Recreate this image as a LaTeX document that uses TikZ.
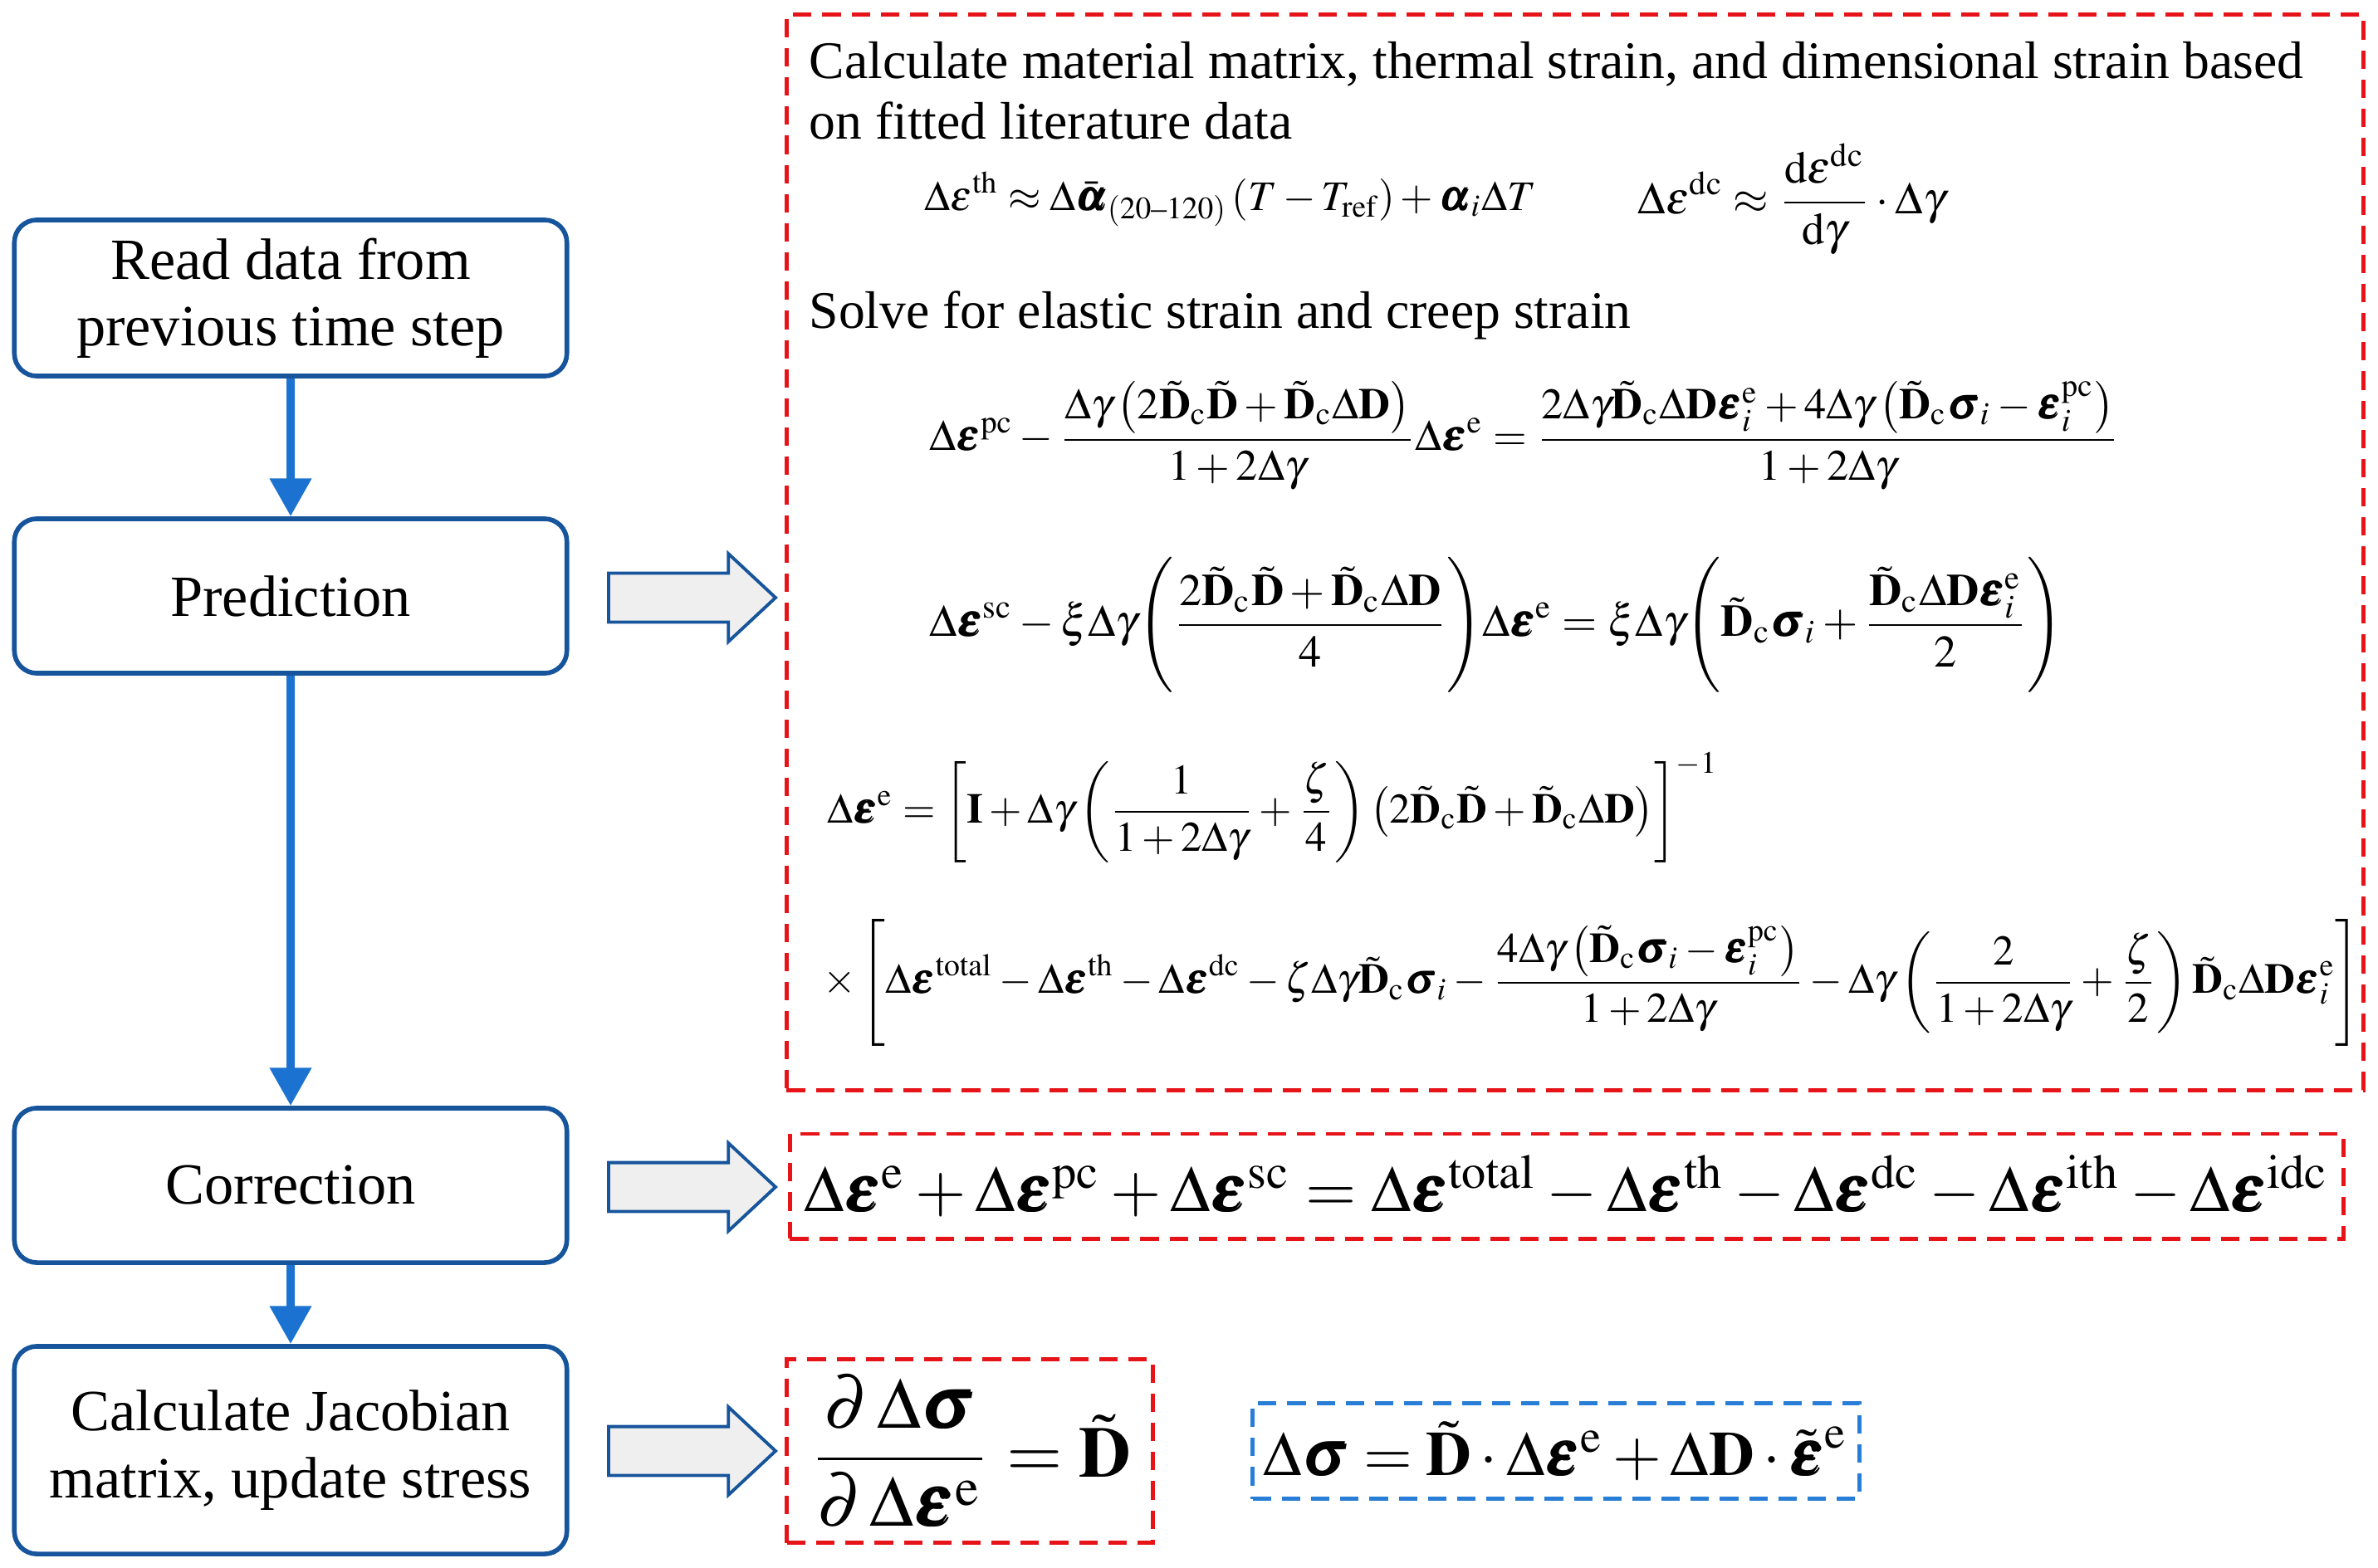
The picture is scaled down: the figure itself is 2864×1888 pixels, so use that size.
\documentclass[tikz,border=0pt]{standalone}
\usepackage{amsmath}
\usepackage{mathptmx}
\usepackage{bm}
\usepackage{graphicx}
\usepackage[no-math]{fontspec}
\setmainfont{Liberation Serif}
\usetikzlibrary{arrows.meta,shapes.arrows,positioning}
\definecolor{bleuboite}{RGB}{22,84,156}
\definecolor{bleuflux}{RGB}{28,114,208}
\definecolor{rougetir}{RGB}{230,20,25}
\definecolor{bleutir}{RGB}{40,125,215}
\definecolor{grisfleche}{RGB}{239,239,239}
\tikzset{
  etape/.style={draw=bleuboite, line width=1.6pt, rounded corners=0.27cm, minimum width=6.65cm, align=center, font=\fontsize{20}{22.8}\selectfont},
  flux/.style={draw=bleuflux, line width=2.8pt, -{Triangle[width=13.7pt,length=13pt]}, bleuflux},
  cadre/.style={draw=rougetir, line width=1.4pt, dash pattern=on 6.3pt off 3.7pt, inner sep=0pt},
  cadrebleu/.style={cadre, draw=bleutir},
  grossefleche/.style={single arrow, draw=bleuboite, fill=grisfleche, line width=1.1pt, minimum height=2.01cm, inner xsep=0pt, inner ysep=0.275cm, single arrow head extend=0.235cm, single arrow tip angle=86, anchor=tail},
  texte/.style={font=\fontsize{18.1}{20.8}\selectfont, align=left, inner sep=0pt},
  formule/.style={inner sep=0pt}
}
\newcommand{\Dt}{\tilde{\mathbf{D}}}
\newcommand{\Dc}{\tilde{\mathbf{D}}_{\mathrm{c}}}
\newcommand{\beps}{\bm{\varepsilon}}
\newcommand{\bsig}{\bm{\sigma}}

\begin{document}
\begin{tikzpicture}[x=0.01cm,y=-0.01cm]
  \useasboundingbox (0,0) rectangle (2864,1888);
  % etapes du calcul
  \node [etape, minimum height=1.88cm] (noeud1) at (350,359) {Read data from\\previous time step};
  \node [etape, minimum height=1.86cm] (noeud2) at (350,718) {Prediction};
  \node [etape, minimum height=1.86cm] (noeud3) at (350,1428) {Correction};
  \node [etape, minimum height=2.50cm] (noeud4) at (350,1747) {Calculate Jacobian\\matrix, update stress};
  \draw [flux] (noeud1) -- (noeud2);
  \draw [flux] (noeud2) -- (noeud3);
  \draw [flux] (noeud3) -- (noeud4);
  % grosses fleches
  \node [grossefleche] (fleche1) at (731,720) {};
  \node [grossefleche] (fleche2) at (731,1430) {};
  \node [grossefleche] (fleche3) at (731,1748) {};
  % prediction
  \node [cadre, minimum width=18.98cm, minimum height=12.95cm] (cadre1) at (1897,665.5) {};
  \node [texte, anchor=base west] (titre1) at (974,168) {Calculate material matrix, thermal strain, and dimensional strain based\\on fitted literature data};
  \node [formule] (eq1) at (1482,240) {\resizebox{7.36cm}{!}{$\displaystyle \Delta\varepsilon^{\mathrm{th}} \approx \Delta\bar{\bm{\alpha}}_{(20\text{--}120)}\left(T-T_{\mathrm{ref}}\right)+\bm{\alpha}_i\Delta T$}};
  \node [formule] (eq2) at (2158,240) {\resizebox{3.70cm}{!}{$\displaystyle \Delta\varepsilon^{\mathrm{dc}} \approx \frac{\mathrm{d}\varepsilon^{\mathrm{dc}}}{\mathrm{d}\gamma}\cdot\Delta\gamma$}};
  \node [texte, anchor=base west] (titre2) at (974,395) {Solve for elastic strain and creep strain};
  \node [formule] (eq3) at (1836,525) {\resizebox{14.32cm}{!}{$\displaystyle \Delta\beps^{\mathrm{pc}}-\frac{\Delta\gamma\left(2\Dc\Dt+\Dc\Delta\mathbf{D}\right)}{1+2\Delta\gamma}\Delta\beps^{\mathrm{e}}=\frac{2\Delta\gamma\Dc\Delta\mathbf{D}\beps_i^{\mathrm{e}}+4\Delta\gamma\left(\Dc\bsig_i-\beps_i^{\mathrm{pc}}\right)}{1+2\Delta\gamma}$}};
  \node [formule] (eq4) at (1802,753) {\resizebox{13.64cm}{!}{$\displaystyle \Delta\beps^{\mathrm{sc}}-\xi\Delta\gamma\Biggl(\frac{2\Dc\Dt+\Dc\Delta\mathbf{D}}{4}\Biggr)\Delta\beps^{\mathrm{e}}=\xi\Delta\gamma\Biggl(\Dc\bsig_i+\frac{\Dc\Delta\mathbf{D}\beps_i^{\mathrm{e}}}{2}\Biggr)$}};
  \node [formule] (eq5) at (1533,973) {\resizebox{10.72cm}{!}{$\displaystyle \Delta\beps^{\mathrm{e}}=\left[\mathbf{I}+\Delta\gamma\left(\frac{1}{1+2\Delta\gamma}+\frac{\zeta}{4}\right)\left(2\Dc\Dt+\Dc\Delta\mathbf{D}\right)\right]^{-1}$}};
  \node [formule] (eq6) at (1917,1184) {\resizebox{18.50cm}{!}{$\displaystyle \times\left[\Delta\beps^{\mathrm{total}}-\Delta\beps^{\mathrm{th}}-\Delta\beps^{\mathrm{dc}}-\zeta\Delta\gamma\Dc\bsig_i-\frac{4\Delta\gamma\left(\Dc\bsig_i-\beps_i^{\mathrm{pc}}\right)}{1+2\Delta\gamma}-\Delta\gamma\left(\frac{2}{1+2\Delta\gamma}+\frac{\zeta}{2}\right)\Dc\Delta\mathbf{D}\beps_i^{\mathrm{e}}\right]$}};
  % correction
  \node [cadre, minimum width=18.70cm, minimum height=1.26cm] (cadre2) at (1887,1429) {\resizebox{18.36cm}{!}{$\Delta\beps^{\mathrm{e}}+\Delta\beps^{\mathrm{pc}}+\Delta\beps^{\mathrm{sc}}=\Delta\beps^{\mathrm{total}}-\Delta\beps^{\mathrm{th}}-\Delta\beps^{\mathrm{dc}}-\Delta\beps^{\mathrm{ith}}-\Delta\beps^{\mathrm{idc}}$}};
  % jacobien et contrainte
  \node [cadre, minimum width=4.40cm, minimum height=2.21cm] (cadre3) at (1168,1748) {\resizebox{3.87cm}{!}{$\displaystyle \frac{\partial\,\Delta\bsig}{\partial\,\Delta\beps^{\mathrm{e}}}=\Dt$}};
  \node [cadrebleu, minimum width=7.30cm, minimum height=1.15cm] (cadre4) at (1874,1748) {\resizebox{7.04cm}{!}{$\Delta\bsig=\Dt\cdot\Delta\beps^{\mathrm{e}}+\Delta\mathbf{D}\cdot\tilde{\beps}^{\mathrm{e}}$}};
\end{tikzpicture}
\end{document}
